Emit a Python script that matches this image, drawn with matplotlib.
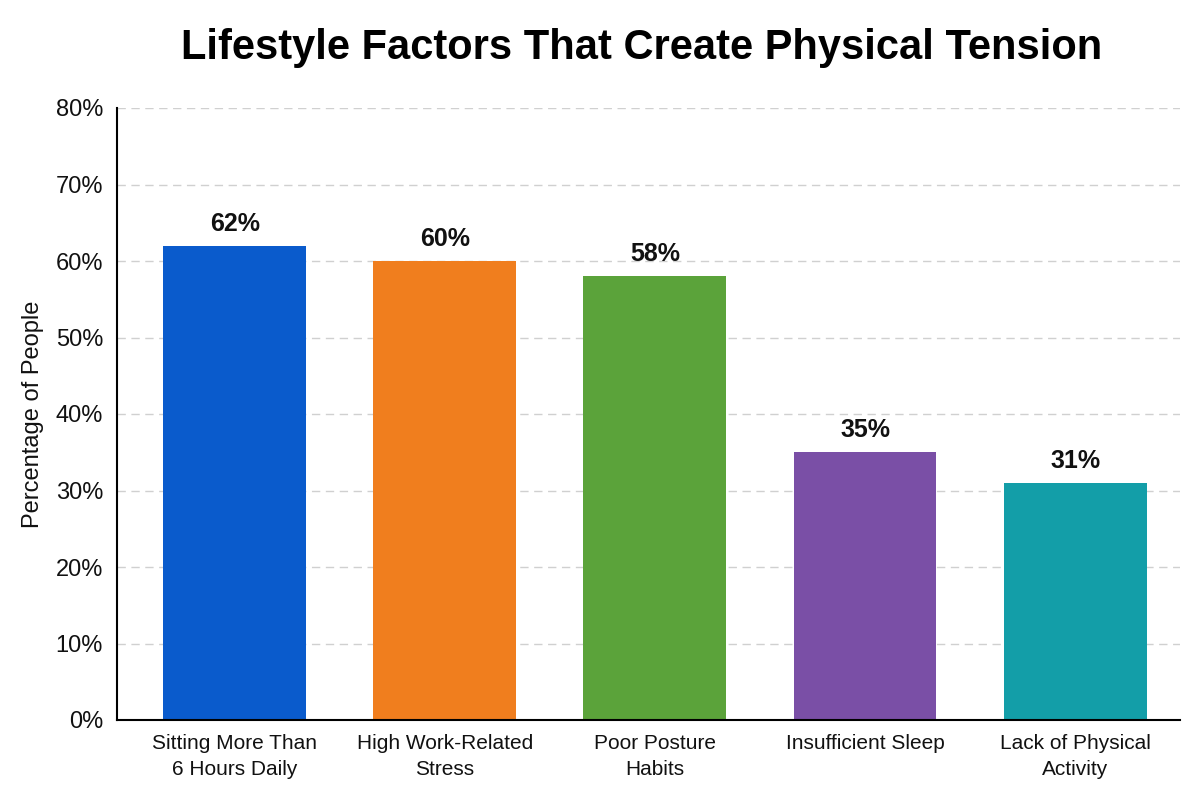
import matplotlib.pyplot as plt
import numpy as np

categories = ["Sitting More Than\n6 Hours Daily", "High Work-Related\nStress",
              "Poor Posture\nHabits", "Insufficient Sleep", "Lack of Physical\nActivity"]
values = [62, 60, 58, 35, 31]
colors = ["#0a5bcc", "#f07e1e", "#5ba33a", "#7a4fa6", "#139ea8"]
yticks = [0, 10, 20, 30, 40, 50, 60, 70, 80]

plt.rcParams['font.family'] = ['Liberation Sans', 'DejaVu Sans']

fig = plt.figure(figsize=(12, 8), dpi=100)
ax = fig.add_axes([0.0975, 0.1, 0.886, 0.765])

x = np.arange(len(categories))
ax.bar(x, values, width=0.68, color=colors, zorder=2)

for xi, v in zip(x, values):
    ax.text(xi, v + 1.3, f"{v}%", ha='center', va='bottom',
            fontsize=18, fontweight='bold', color='#111111')

ax.set_xlim(-0.56, 4.5)
ax.set_ylim(0, 80)
ax.set_yticks(yticks)
ax.set_yticklabels([f"{t}%" for t in yticks], fontsize=17, color='#111111')
ax.set_xticks(x)
ax.set_xticklabels(categories, fontsize=15, color='#111111', linespacing=1.45)
ax.tick_params(axis='y', length=0, pad=10)
ax.tick_params(axis='x', length=0, pad=10)

ax.grid(axis='y', linestyle=(0, (6, 4)), color='#d0d0d0', linewidth=1, zorder=0)
ax.spines['top'].set_visible(False)
ax.spines['right'].set_visible(False)
ax.spines['left'].set_linewidth(1.5)
ax.spines['bottom'].set_linewidth(1.5)

ax.set_ylabel("Percentage of People", fontsize=17, color='#111111', labelpad=8)

fig.text(0.535, 0.94, "Lifestyle Factors That Create Physical Tension",
         ha='center', va='center', fontsize=30, fontweight='bold', color='#000000')

fig.savefig("out.png", dpi=100, facecolor='white')
